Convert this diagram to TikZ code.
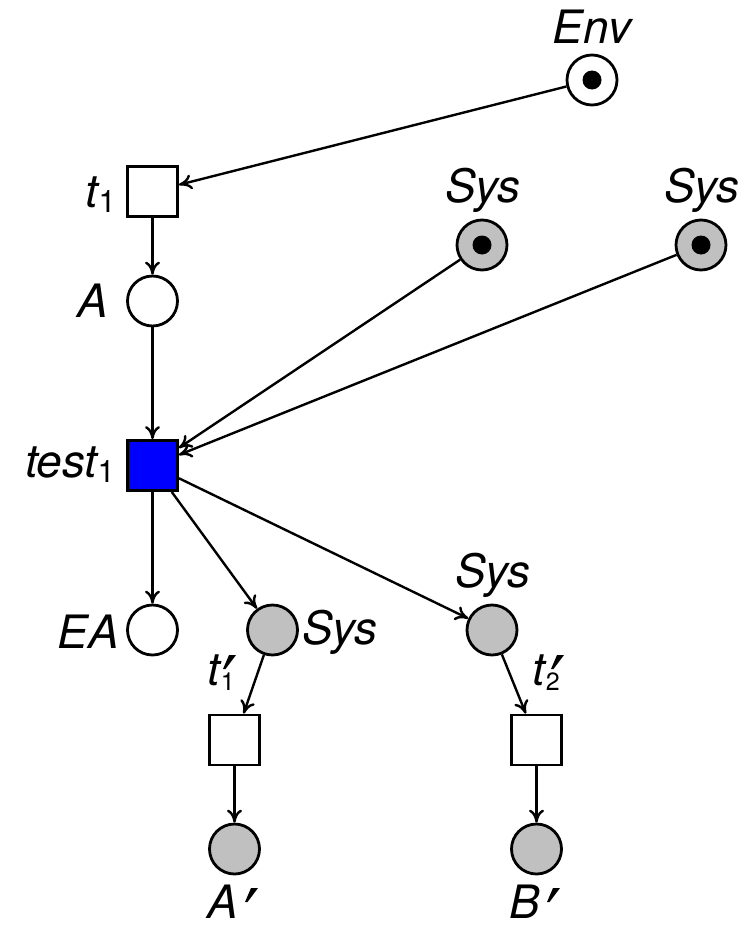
\documentclass[tikz,border=0pt]{standalone}
\usepackage{fontspec}
\setmainfont{TeX Gyre Heros}
\usetikzlibrary{arrows.meta}
\definecolor{tokgray}{RGB}{192,192,192}
\definecolor{trblue}{RGB}{0,0,255}
% subscript indices for the labels
\newcommand{\lbsub}[1]{\raisebox{-5pt}{\fontsize{31}{31}\selectfont\upshape #1}}
\newcommand{\lbsmallsub}[1]{\raisebox{-5pt}{\fontsize{25}{25}\selectfont\upshape\hspace{1pt}#1}}
\begin{document}
\begin{tikzpicture}[x=1pt,y=-1pt,
  place/.style={circle,draw,line width=2.8pt,minimum size=50pt,inner sep=0pt,fill=white},
  sysplace/.style={place,fill=tokgray},
  trans/.style={rectangle,draw,line width=2.8pt,minimum size=50pt,inner sep=0pt,fill=white},
  testtrans/.style={trans,fill=trblue},
  arc/.style={line width=2.4pt,-{To[length=13pt,width=15pt]}},
  lbl/.style={font=\fontsize{46}{46}\selectfont\itshape,inner sep=0pt},
  primemark/.pic={\fill (6,0) -- (13,0) -- (2.5,14) -- (0,14) -- cycle;}]
\fill[white] (0,0) rectangle (747,926);
\useasboundingbox (0,0) rectangle (747,926);

% places
\node[place]    (env)  at (592,80)    {};
\node[sysplace] (sys1) at (482,245)   {};
\node[sysplace] (sys2) at (701,245)   {};
\node[place]    (A)    at (152.5,301) {};
\node[place]    (EA)   at (152.5,630) {};
\node[sysplace] (sysA) at (272.5,630) {};
\node[sysplace] (sysB) at (492,630)   {};
\node[sysplace] (Ap)   at (234.5,849) {};
\node[sysplace] (Bp)   at (536.5,849) {};

% transitions
\node[trans]     (t1)   at (152.5,191.5) {};
\node[testtrans] (test) at (152.5,465.5) {};
\node[trans]     (t1p)  at (234.5,740)   {};
\node[trans]     (t2p)  at (536.5,740)   {};

% tokens
\fill (env.center)  circle (9.5pt);
\fill (sys1.center) circle (9.5pt);
\fill (sys2.center) circle (9.5pt);

% labels
\node[lbl,anchor=base]      (lenv)  at (592,43)  {Env};
\node[lbl,anchor=base]      (lsys1) at (483,202) {Sys};
\node[lbl,anchor=base]      (lsys2) at (702,202) {Sys};
\node[lbl,anchor=base east] (lt1)   at (116,207) {t\lbsub{1}};
\node[lbl,anchor=base east] (lA)    at (108,317) {A};
\node[lbl,anchor=base east] (ltest) at (115,477) {test\lbsub{1}};
\node[lbl,anchor=base east] (lEA)   at (119,648) {EA};
\node[lbl,anchor=base west] (lsysA) at (302,644) {Sys};
\node[lbl,anchor=base]      (lsysB) at (493,587) {Sys};
\node[lbl,anchor=base west] (lt1p)  at (207,685) {t\lbsmallsub{1}};
\node[lbl,anchor=base west] (lt2p)  at (532,685) {t\lbsmallsub{2}};
\node[lbl,anchor=base west] (lAp)   at (207,918) {A};
\node[lbl,anchor=base west] (lBp)   at (509,918) {B};

% prime marks
\pic at (223,655) {primemark};
\pic at (551,655) {primemark};
\pic at (245,888) {primemark};
\pic at (547,888) {primemark};

% arcs
\draw[arc] (env)  -- (t1);
\draw[arc] (t1)   -- (A);
\draw[arc] (A)    -- (test);
\draw[arc] (sys1) -- (test);
\draw[arc] (sys2) -- (test);
\draw[arc] (test) -- (EA);
\draw[arc] (test) -- (sysA);
\draw[arc] (test) -- (sysB);
\draw[arc] (sysA) -- (t1p);
\draw[arc] (sysB) -- (t2p);
\draw[arc] (t1p)  -- (Ap);
\draw[arc] (t2p)  -- (Bp);
\end{tikzpicture}
\end{document}
